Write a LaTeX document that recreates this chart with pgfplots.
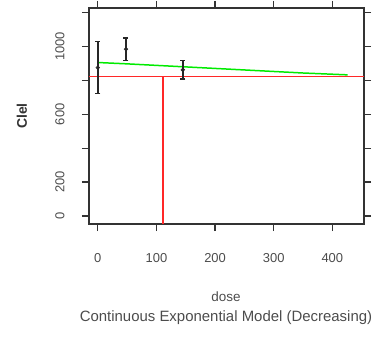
\documentclass[border=0pt]{standalone}
\usepackage{pgfplots}
\pgfplotsset{compat=1.18}
\usepackage{fontspec}
\setmainfont{Liberation Sans}
\definecolor{rgreen}{RGB}{0,235,0}
\definecolor{rred}{RGB}{255,40,40}
\begin{document}
\begin{tikzpicture}[x=1bp,y=1bp]
\useasboundingbox (0,0) rectangle (385,339);
\begin{axis}[
  at={(89bp,115bp)}, anchor=south west,
  scale only axis, width=275bp, height=216bp,
  xmin=-15, xmax=454, ymin=-48, ymax=1228,
  axis line style={black!80, line width=1.3pt},
  tick style={black!80, line width=1.3pt},
  tick align=outside, major tick length=7bp,
  xtick={0,100,200,300,400},
  ytick={0,200,400,600,800,1000,1200},
  yticklabels={0,200,,600,,1000,},
  yticklabel style={rotate=90, anchor=south, font=\fontsize{13}{14}\selectfont, text=black!70, yshift=14bp},
  xticklabel style={font=\fontsize{13}{14}\selectfont, text=black!70, yshift=-19bp},
  /pgf/number format/assume math mode=true,
  clip=false,
]
% red BMD lines
\addplot[rred, line width=1.5pt] coordinates {(-15,824) (454,824)};
\addplot[rred, line width=1.5pt] coordinates {(111,824) (111,-48)};
% fitted curve
\addplot[rgreen, line width=1.5pt, no marks] coordinates {
  (0,906) (50,898) (100,889) (150,880) (200,871) (250,862) (300,853) (350,844) (426,833)};
% data with error bars
\addplot[black!85, line width=1.3pt, only marks, mark=o, mark size=1.8pt,
  mark options={line width=0.7pt},
  error bars/.cd, y dir=both, y explicit, error bar style={line width=1.5pt},
  error mark options={rotate=90, mark size=2.5pt, line width=1.3pt}]
  coordinates {
  (0,876) +- (0,155)
  (48,985) +- (0,66)
  (145,863) +- (0,54)
};
\end{axis}
\node[font=\bfseries\fontsize{14}{14}\selectfont, text=black!80] at (22,223) {\rotatebox{90}{Clel}};
\node[font=\fontsize{13.5}{14}\selectfont, text=black!70] at (226,42) {dose};
\node[font=\fontsize{15}{14}\selectfont, text=black!70] at (226,21) {Continuous Exponential Model (Decreasing)};
\end{tikzpicture}
\end{document}
